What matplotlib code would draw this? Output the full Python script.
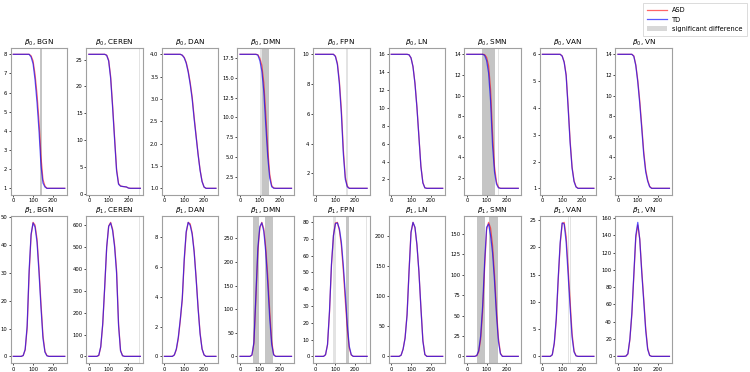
import matplotlib
matplotlib.use("Agg")
import matplotlib.pyplot as plt
from matplotlib.lines import Line2D
from matplotlib.patches import Patch
from matplotlib.ticker import MultipleLocator

networks = ["BGN", "CEREN", "DAN", "DMN", "FPN", "LN", "SMN", "VAN", "VN"]
steps = [0, 10, 20, 30, 40, 50, 60, 70, 80, 90, 100, 110, 120, 130,
         140, 150, 160, 170, 180, 190, 200, 210, 220, 230, 240, 250, 260]

# beta_0 curves (number of components)
b0_bgn_td = [8]*9 + [7.86, 7.51, 6.67, 5.48, 4.01, 2.19, 1.28, 1.07] + [1]*10
b0_bgn_asd = [8]*9 + [7.92, 7.65, 6.95, 5.9, 4.5, 2.65, 1.45, 1.12] + [1]*10
b0_ceren_td = [26]*9 + [25.8, 24.75, 21.5, 16.0, 10.0, 4.25, 1.75, 1.4, 1.35, 1.3, 1.25, 1.05] + [1]*6
b0_ceren_asd = [26]*9 + [25.85, 24.9, 21.9, 16.5, 10.5, 4.6, 1.9, 1.45, 1.35, 1.3, 1.25, 1.05] + [1]*6
b0_dan_td = [4]*9 + [3.98, 3.92, 3.8, 3.6, 3.33, 3.0, 2.55, 2.15, 1.75, 1.4, 1.15, 1.03] + [1]*6
b0_dan_asd = [4]*9 + [3.98, 3.93, 3.82, 3.63, 3.37, 3.05, 2.6, 2.18, 1.77, 1.42, 1.16, 1.03] + [1]*6
b0_dmn_td = [18]*9 + [17.9, 17.2, 15.9, 13.3, 9.0, 5.0, 2.3, 1.2, 1.02] + [1]*9
b0_dmn_asd = [18]*9 + [17.95, 17.5, 16.6, 14.4, 10.4, 6.0, 2.8, 1.35, 1.04] + [1]*9
b0_fpn_td = [10]*10 + [9.85, 9.3, 8.0, 6.0, 3.3, 1.6, 1.1] + [1]*10
b0_fpn_asd = [10]*10 + [9.88, 9.4, 8.2, 6.3, 3.6, 1.75, 1.15] + [1]*10
b0_ln_td = [16]*9 + [15.95, 15.6, 14.6, 12.7, 10.0, 6.7, 3.4, 1.6, 1.05] + [1]*9
b0_ln_asd = [16]*9 + [15.95, 15.6, 14.65, 12.8, 10.1, 6.8, 3.5, 1.65, 1.06] + [1]*9
b0_smn_td = [14]*9 + [13.9, 13.4, 12.2, 9.5, 5.2, 2.6, 1.4, 1.05] + [1]*10
b0_smn_asd = [14]*9 + [13.97, 13.7, 12.9, 10.6, 6.3, 3.1, 1.6, 1.1] + [1]*10
b0_van_td = [6]*10 + [5.93, 5.7, 5.2, 4.0, 2.7, 1.75, 1.25, 1.05] + [1]*9
b0_van_asd = [6]*10 + [5.94, 5.72, 5.25, 4.1, 2.8, 1.8, 1.28, 1.06] + [1]*9
b0_vn_td = [14]*8 + [13.8, 12.9, 11.3, 9.2, 6.8, 4.3, 2.6, 1.7, 1.15] + [1]*10
b0_vn_asd = [14]*8 + [13.85, 13.0, 11.5, 9.5, 7.1, 4.6, 2.8, 1.8, 1.2] + [1]*10

# beta_1 curves (number of cycles)
b1_bgn_td = [0]*5 + [0.3, 2.5, 11, 31, 44, 48, 46.5, 41, 30, 17.5, 6.5, 1.5, 0.2] + [0]*9
b1_bgn_asd = [0]*5 + [0.3, 2.3, 10, 29.5, 43.5, 48.2, 47.2, 42.2, 31.5, 19, 7.5, 1.8, 0.3] + [0]*9
b1_ceren_td = [0]*5 + [5, 45, 150, 320, 500, 595, 610, 575, 500, 380, 140, 25, 3] + [0]*9
b1_ceren_asd = [0]*5 + [4, 42, 145, 315, 498, 596, 613, 582, 510, 395, 150, 28, 3] + [0]*9
b1_dan_td = [0]*5 + [0.1, 0.5, 1.3, 2.5, 3.9, 6.6, 8.4, 9.0, 8.8, 8.2, 7.0, 5.2, 3.2, 1.5, 0.5, 0.1] + [0]*6
b1_dan_asd = [0]*5 + [0.1, 0.45, 1.2, 2.4, 3.8, 6.4, 8.3, 9.0, 8.9, 8.3, 7.1, 5.3, 3.3, 1.6, 0.5, 0.1] + [0]*6
b1_dmn_td = [0]*6 + [3, 30, 130, 230, 275, 283, 265, 220, 155, 80, 25, 3] + [0]*9
b1_dmn_asd = [0]*6 + [2.5, 27, 122, 222, 272, 284, 270, 230, 170, 95, 32, 4] + [0]*9
b1_fpn_td = [0]*5 + [1, 7, 27, 55, 72, 79, 79.5, 76, 68, 54, 37, 19, 6, 1] + [0]*8
b1_fpn_asd = [0]*5 + [1, 7, 26, 54, 72, 79.5, 79.8, 75, 66, 51, 33, 16, 5, 0.8] + [0]*8
b1_ln_td = [0]*5 + [2, 12, 30, 68, 140, 205, 222, 214, 185, 140, 80, 25, 3] + [0]*9
b1_ln_asd = [0]*5 + [2, 12, 31, 70, 142, 206, 222, 213, 184, 140, 82, 27, 3] + [0]*9
b1_smn_td = [0]*5 + [1, 7, 25, 62, 115, 158, 162, 148, 127, 92, 50, 18, 3] + [0]*9
b1_smn_asd = [0]*5 + [0.8, 5.5, 21, 55, 108, 155, 164, 157, 136, 100, 57, 22, 4] + [0]*9
b1_van_td = [0]*5 + [0.3, 2.5, 7, 14.5, 21, 24.5, 24.3, 21, 15, 9, 3.5, 0.8, 0.1] + [0]*9
b1_van_asd = [0]*5 + [0.3, 2.3, 6.6, 14, 20.6, 24.4, 24.6, 22, 16.3, 10.2, 4.2, 1.0, 0.1] + [0]*9
b1_vn_td = [0]*4 + [0.3, 3, 20, 50, 95, 140, 155, 135, 97, 64, 30, 8, 1] + [0]*10
b1_vn_asd = [0]*4 + [0.3, 2.8, 19, 48, 92, 137, 152, 136, 100, 67, 33, 9.5, 1.2] + [0]*10

# significant-difference windows (start, end, strength)
b0_sig = {
    "BGN": [(134, 145, 2)],
    "CEREN": [(254, 260, 1)],
    "DMN": [(100, 113, 1), (113, 145, 2)],
    "FPN": [(155, 162, 1)],
    "SMN": [(75, 140, 2), (158, 162, 1)],
}
b1_sig = {
    "CEREN": [(254, 260, 1)],
    "DMN": [(66, 98, 2), (124, 168, 2)],
    "FPN": [(87, 105, 1), (151, 170, 2), (254, 260, 1)],
    "SMN": [(49, 92, 2), (111, 158, 2)],
    "VAN": [(130, 133, 1), (141, 144, 1)],
}

b0_td = [b0_bgn_td, b0_ceren_td, b0_dan_td, b0_dmn_td, b0_fpn_td, b0_ln_td, b0_smn_td, b0_van_td, b0_vn_td]
b0_asd = [b0_bgn_asd, b0_ceren_asd, b0_dan_asd, b0_dmn_asd, b0_fpn_asd, b0_ln_asd, b0_smn_asd, b0_van_asd, b0_vn_asd]
b1_td = [b1_bgn_td, b1_ceren_td, b1_dan_td, b1_dmn_td, b1_fpn_td, b1_ln_td, b1_smn_td, b1_van_td, b1_vn_td]
b1_asd = [b1_bgn_asd, b1_ceren_asd, b1_dan_asd, b1_dmn_asd, b1_fpn_asd, b1_ln_asd, b1_smn_asd, b1_van_asd, b1_vn_asd]
b0_ystep = [1, 5, 0.5, 2.5, 2, 2, 2, 1, 2]
b1_ystep = [10, 100, 2, 50, 10, 50, 25, 5, 20]

fig, axes = plt.subplots(2, 9, figsize=(7.5, 3.72), dpi=100)
fig.subplots_adjust(left=0.0143, right=0.896, top=0.872, bottom=0.024,
                    wspace=0.336, hspace=0.14)

rows = [(r"$\beta_0$", b0_asd, b0_td, b0_sig, b0_ystep),
        (r"$\beta_1$", b1_asd, b1_td, b1_sig, b1_ystep)]
for r, (sym, asd, td, sig, ystep) in enumerate(rows):
    for c, net in enumerate(networks):
        ax = axes[r, c]
        for x0, x1, k in sig.get(net, []):
            ax.axvspan(x0, x1, color="grey", alpha=0.22 if k == 1 else 0.45, lw=0)
        ax.plot(steps, asd[c], color="red", alpha=0.6, lw=0.9)
        ax.plot(steps, td[c], color="blue", alpha=0.65, lw=0.9)
        ax.set_title(f"{sym}, {net}", fontsize=5.2, pad=1.5)
        ax.xaxis.set_major_locator(MultipleLocator(100))
        ax.yaxis.set_major_locator(MultipleLocator(ystep[c]))
        ax.tick_params(labelsize=3.8, length=1.5, width=0.5, pad=1)
        for s in ax.spines.values():
            s.set_color("#a0a0a0")
            s.set_linewidth(0.8)

handles = [Line2D([], [], color="red", alpha=0.6, lw=0.9),
           Line2D([], [], color="blue", alpha=0.65, lw=0.9),
           Patch(color="grey", alpha=0.3, lw=0)]
leg = fig.legend(handles, ["ASD", "TD", "significant difference"],
                 loc="upper right", bbox_to_anchor=(1.0, 1.0), fontsize=4.8,
                 handlelength=3, frameon=True, fancybox=False, borderpad=0.6)
leg.get_frame().set_edgecolor("#cccccc")
leg.get_frame().set_linewidth(0.6)

fig.savefig("out.png", dpi=100)
